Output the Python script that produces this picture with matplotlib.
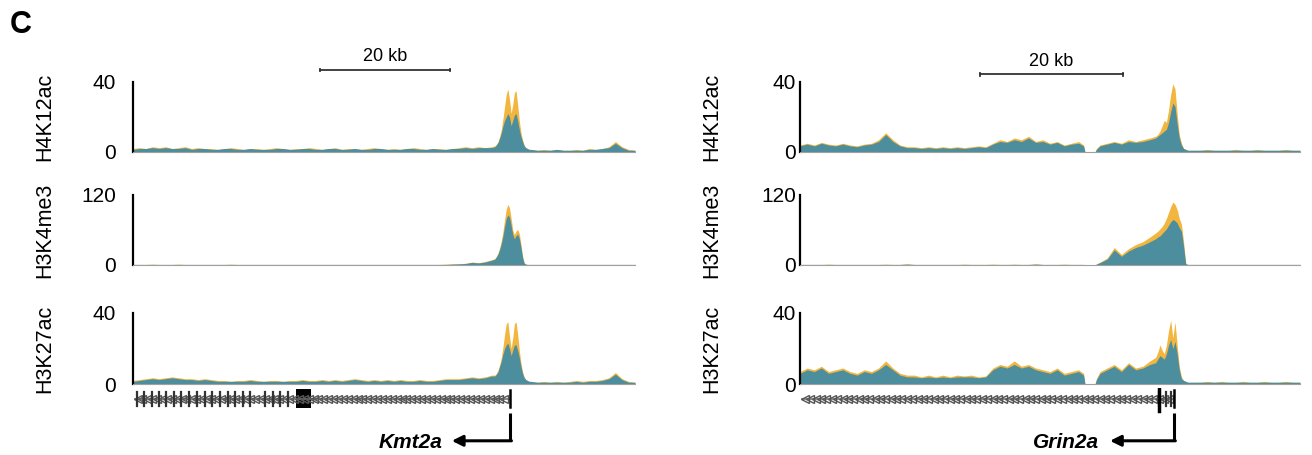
import numpy as np
import matplotlib
matplotlib.use("Agg")
import matplotlib.pyplot as plt

plt.rcParams['font.family'] = ['Liberation Sans', 'DejaVu Sans']

YELLOW = '#f2b63e'
TEAL = '#2f87b0'

# ---------------- data: Kmt2a locus (kb from left edge) ----------------
left_kb = [0, 1, 2, 3, 4, 5, 6, 7, 8, 9, 10, 11, 12, 13, 14, 15, 16, 17, 18, 19,
           20, 21, 22, 23, 24, 25, 26, 27, 28, 29, 30, 31, 32, 33, 34, 35, 36, 37, 38, 39,
           40, 41, 42, 43, 44, 45, 46, 47, 48, 49, 50, 51, 52, 53, 54, 55,
           55.5, 55.75, 56, 56.25, 56.5, 56.75, 57, 57.25, 57.5, 57.75, 58, 58.25,
           58.5, 58.75, 59, 59.25, 59.5, 59.75, 60, 60.25, 60.5, 60.75, 61,
           62, 63, 64, 65, 66, 67, 68, 69, 70, 71, 72, 73, 74, 75, 76, 77]

left_h4k12ac_a = [2, 2.5, 2, 3, 2.5, 3, 2, 2.5, 3, 2,
                  2.5, 2, 2, 1.5, 2, 2.5, 2, 1.5, 2, 2,
                  1.5, 2, 2.5, 2, 1.5, 2, 2, 2.5, 2, 1.5,
                  2, 2.5, 1.5, 2, 2, 1.5, 2, 2.5, 2, 1.5,
                  2, 1.5, 2, 2.5, 2, 1.5, 2, 2, 1.5, 2,
                  2.5, 3, 2.5, 3, 2.5, 3,
                  3.5, 4.5, 6, 9, 13, 19, 26, 33, 36, 30, 22, 27,
                  34, 35, 27, 18, 11, 7, 4, 2.5, 2, 1.5, 1.5,
                  1, 1.5, 1, 1.5, 1, 1, 1.5, 1, 2, 1.5, 2, 3, 6, 3, 1.5, 1]
left_h4k12ac_b = [1.5, 2, 2, 2.5, 2, 2.5, 2, 2, 2.5, 1.5,
                  2, 2, 1.5, 1.5, 2, 2, 1.5, 1.5, 2, 1.5,
                  1.5, 1.5, 2, 2, 1.5, 1.5, 2, 2, 1.5, 1.5,
                  2, 2, 1.5, 1.5, 2, 1.5, 1.5, 2, 2, 1.5,
                  1.5, 1.5, 2, 2, 1.5, 1.5, 2, 1.5, 1.5, 2,
                  2, 2.5, 2, 2.5, 2.5, 2.5,
                  3, 4, 5.5, 8, 11, 15, 18, 20, 22, 20, 15, 18,
                  21, 22, 18, 13, 9, 6, 3.5, 2.5, 2, 1.5, 1.5,
                  1, 1, 1, 1.5, 1, 1, 1, 1, 1.5, 1.5, 2, 2.5, 5, 2.5, 1, 1]

left_h3k4me3_a = [1, 1, 1, 1.5, 1, 1, 1, 1.5, 1, 1,
                  1, 1, 1, 1, 1, 1.5, 1, 1, 1, 1,
                  1, 1, 1, 1, 1, 1, 1, 1, 1, 1,
                  1, 1, 1, 1, 1, 1, 1, 1, 1, 1,
                  1, 1, 1, 1, 1, 1, 1, 1, 1.5, 2,
                  2, 3, 5, 4, 6, 9,
                  11, 15, 21, 30, 42, 58, 78, 96, 104, 98, 80, 60,
                  52, 58, 61, 54, 36, 16, 4, 1.5, 1, 1, 1,
                  1, 1, 1, 1, 1, 1, 1, 1, 1, 1, 1, 1, 1, 1, 1, 1]
left_h3k4me3_b = [1, 1, 1, 1, 1, 1, 1, 1, 1, 1,
                  1, 1, 1, 1, 1, 1, 1, 1, 1, 1,
                  1, 1, 1, 1, 1, 1, 1, 1, 1, 1,
                  1, 1, 1, 1, 1, 1, 1, 1, 1, 1,
                  1, 1, 1, 1, 1, 1, 1, 1, 1, 1.5,
                  2, 2.5, 4.5, 3.5, 5, 8,
                  10, 14, 19, 27, 37, 50, 66, 80, 86, 82, 68, 52,
                  45, 50, 53, 46, 31, 13, 3, 1.5, 1, 1, 1,
                  1, 1, 1, 1, 1, 1, 1, 1, 1, 1, 1, 1, 1, 1, 1, 1]

left_h3k27ac_a = [2, 2.5, 3, 3.5, 3, 3.5, 4, 3.5, 3, 3,
                  2.5, 3, 2.5, 2, 2, 1.5, 2, 2, 2.5, 2,
                  1.5, 2, 2, 1.5, 2, 2, 2.5, 2, 2, 2.5,
                  2, 2.5, 2, 2.5, 3, 2.5, 2, 2.5, 2, 2.5,
                  2, 2.5, 2, 2, 2.5, 2, 2, 2.5, 3, 3,
                  3, 3.5, 4, 3.5, 4, 5,
                  5, 6, 8, 11, 15, 21, 28, 34, 35, 27, 20, 26,
                  34, 35, 28, 19, 12, 7, 4, 2.5, 2, 1.5, 1.5,
                  1, 1.5, 1, 1.5, 1, 1.5, 2, 1.5, 2, 2, 2.5, 3.5, 6.5, 3, 1.5, 1]
left_h3k27ac_b = [1.5, 2, 2.5, 3, 2.5, 3, 3.5, 3, 2.5, 2.5,
                  2, 2.5, 2, 1.5, 1.5, 1.5, 1.5, 1.5, 2, 1.5,
                  1.5, 1.5, 1.5, 1.5, 1.5, 1.5, 2, 1.5, 1.5, 2,
                  1.5, 2, 1.5, 2, 2.5, 2, 1.5, 2, 1.5, 2,
                  1.5, 2, 1.5, 1.5, 2, 1.5, 1.5, 2, 2.5, 2.5,
                  2.5, 3, 3.5, 3, 3.5, 4.5,
                  4.5, 5.5, 7, 10, 13, 17, 20, 22, 23, 20, 16, 19,
                  22, 22, 19, 15, 10, 6, 3.5, 2.5, 2, 1.5, 1.5,
                  1, 1, 1, 1, 1, 1, 1.5, 1, 1.5, 1.5, 2, 3, 5.5, 2.5, 1, 1]

# ---------------- data: Grin2a locus ----------------
right_kb = [0, 1, 2, 3, 4, 5, 6, 7, 8, 9, 10, 11, 12, 13, 14, 15, 16, 17, 18, 19,
            20, 21, 22, 23, 24, 25, 26, 27, 28, 29, 30, 31, 32, 33, 34, 35, 36, 37, 38, 39,
            39.7, 39.9, 41.3, 41.5,
            42, 43, 44, 45, 46, 47, 48, 49,
            49.8, 50.1, 50.4, 50.7, 51.0, 51.3, 51.6, 51.9, 52.2, 52.5, 52.8, 53.1,
            53.4, 53.7, 54.0, 54.3,
            55, 56, 57, 58, 59, 60, 61, 62, 63, 64, 65, 66, 67, 68, 69, 70]

right_h4k12ac_a = [4, 5, 4, 5.5, 4.5, 4, 5, 4, 3.5, 4.5,
                   5, 7, 11, 7, 4, 3, 3, 2.5, 3, 2.5,
                   3, 2.5, 3, 2.5, 3, 3.5, 3, 5, 7, 6,
                   8, 7, 9, 6, 7, 5, 6, 4, 5, 6,
                   4, 0, 0, 2,
                   4, 5, 6, 5, 7, 6, 7, 8,
                   9, 10, 12, 15, 18, 17, 24, 33, 39, 36, 22, 10,
                   5, 2, 1.5, 1,
                   1, 1, 1.5, 1, 1, 1, 1.5, 1, 1, 1.5, 1, 1, 1, 1.5, 1, 1]
right_h4k12ac_b = [3.5, 4.5, 3.5, 5, 4, 3.5, 4.5, 3.5, 3, 4,
                   4.5, 6, 10, 6, 3.5, 2.5, 2.5, 2, 2.5, 2,
                   2.5, 2, 2.5, 2, 2.5, 3, 2.5, 4.5, 6, 5.5,
                   7, 6, 8, 5.5, 6, 4.5, 5.5, 3.5, 4.5, 5,
                   3.5, 0, 0, 1.5,
                   3.5, 4.5, 5.5, 4.5, 6, 5.5, 6, 7,
                   8, 9, 10, 11, 12, 13, 17, 23, 28, 26, 16, 8,
                   4, 2, 1.5, 1,
                   1, 1, 1, 1, 1, 1, 1, 1, 1, 1, 1, 1, 1, 1, 1, 1]

right_h3k4me3_a = [1, 1, 1, 1, 1.5, 1, 1, 1, 1, 1,
                   1, 1, 1.5, 1, 1, 2, 1, 1, 1, 1,
                   1, 1, 1, 1.5, 1, 1, 1, 1.5, 1, 1,
                   1.5, 1, 1, 2, 1, 1, 1, 1.5, 1, 1,
                   1, 0, 0, 2,
                   5, 12, 30, 18, 28, 35, 40, 48,
                   55, 58, 62, 66, 72, 80, 90, 100, 108, 104, 95, 80,
                   70, 40, 3, 1,
                   1, 1, 1, 1, 1, 1, 1, 1, 1, 1, 1, 1, 1, 1, 1, 1]
right_h3k4me3_b = [1, 1, 1, 1, 1, 1, 1, 1, 1, 1,
                   1, 1, 1, 1, 1, 1.5, 1, 1, 1, 1,
                   1, 1, 1, 1, 1, 1, 1, 1, 1, 1,
                   1, 1, 1, 1.5, 1, 1, 1, 1, 1, 1,
                   1, 0, 0, 1.5,
                   4, 10, 26, 15, 24, 30, 34, 40,
                   45, 48, 50, 54, 58, 62, 68, 74, 78, 76, 72, 64,
                   58, 32, 2, 1,
                   1, 1, 1, 1, 1, 1, 1, 1, 1, 1, 1, 1, 1, 1, 1, 1]

right_h3k27ac_a = [7, 9, 8, 10, 7, 8, 9, 7, 6, 8,
                   7, 9, 13, 9, 6, 5, 5, 4, 5, 4,
                   5, 4, 5, 4.5, 5, 4, 4.5, 9, 11, 10,
                   13, 10, 11, 9, 8, 7, 9, 6, 7, 8,
                   6, 0, 0, 3,
                   7, 9, 11, 8, 12, 9, 10, 13,
                   15, 18, 22, 19, 17, 22, 30, 36, 26, 35, 22, 10,
                   4, 2, 1.5, 1,
                   1, 1, 1.5, 1, 1.5, 1, 1, 1.5, 1, 1, 1.5, 1, 1, 1.5, 1, 1]
right_h3k27ac_b = [6, 8, 7, 9, 6, 7, 8, 6, 5, 7,
                   6, 8, 11, 8, 5, 4, 4, 3.5, 4, 3.5,
                   4, 3.5, 4, 4, 4, 3.5, 4, 8, 10, 9,
                   11, 9, 10, 8, 7, 6, 8, 5, 6, 7,
                   5, 0, 0, 2.5,
                   6, 8, 10, 7, 11, 8, 9, 11,
                   12, 14, 16, 15, 14, 17, 22, 25, 20, 24, 17, 8,
                   3, 2, 1.5, 1,
                   1, 1, 1, 1, 1, 1, 1, 1, 1, 1, 1, 1, 1, 1, 1, 1]

track_names = ['H4K12ac', 'H3K4me3', 'H3K27ac']
track_max = [40, 120, 40]

# gene models (kb)
left_gene = (0.3, 57.9)           # start, TSS
left_exons = [0.6, 1.7, 2.9, 4.0, 5.1, 6.3, 7.4, 8.6, 9.8, 11.0, 12.1, 13.3,
              14.5, 15.6, 16.8, 18.0, 20.2, 21.4, 22.6, 23.8]
left_big_exon = (25.0, 27.3)
right_gene = (0.3, 52.4)
right_exons = [50.3, 51.2, 51.9]

W, H = 1312, 455
fig = plt.figure(figsize=(W / 100, H / 100), dpi=100)


def add_ax(x0, y_top, x1, y_bot):
    return fig.add_axes([x0 / W, 1 - y_bot / H, (x1 - x0) / W, (y_bot - y_top) / H])


def draw_track(ax, kb, a, b, ymax, xmax, name, tickpad):
    ax.fill_between(kb, 0, a, color=YELLOW, lw=0)
    ax.fill_between(kb, 0, b, color=TEAL, lw=0, alpha=0.85)
    ax.set_xlim(0, xmax)
    ax.set_ylim(0, ymax)
    ax.set_xticks([])
    ax.set_yticks([0, ymax])
    ax.tick_params(axis='y', length=0, pad=tickpad, labelsize=15)
    for s in ['top', 'right']:
        ax.spines[s].set_visible(False)
    ax.spines['left'].set_linewidth(1.6)
    ax.spines['bottom'].set_color('#a0a0a0')
    ax.spines['bottom'].set_linewidth(0.8)
    ax.set_ylabel(name, fontsize=15.5)
    ax.yaxis.set_label_coords(-0.155, 0.5)
    ax.patch.set_alpha(0)


def draw_gene(ax, gene, exons, big, xmax, label, tall_idx=None):
    ax.set_xlim(0, xmax)
    ax.set_ylim(0, 1)
    ax.axis('off')
    g0, tss = gene
    yc = 0.82
    ax.plot([g0, tss], [yc, yc], color='#777777', lw=1.2)
    chev = np.arange(g0 + 0.4, tss - 0.3, 0.75)
    ax.plot(chev, np.full_like(chev, yc), ls='none', marker='<', ms=6,
            mfc='none', mec='#555555', mew=1.0)
    for e in exons:
        ax.plot([e, e], [yc - 0.12, yc + 0.12], color='#333333', lw=1.6)
    if big is not None:
        ax.fill_between([big[0], big[1]], yc - 0.16, yc + 0.16, color='black', lw=0)
    if tall_idx is not None:
        e = exons[tall_idx]
        ax.plot([e, e], [yc - 0.2, yc + 0.2], color='black', lw=2.5)
    ax.plot([tss, tss], [yc - 0.14, yc + 0.14], color='black', lw=1.8)
    # TSS arrow
    ax.plot([tss, tss], [0.58, 0.12], color='black', lw=2.2, solid_capstyle='butt')
    ax.annotate('', xy=(tss - 9.0, 0.12), xytext=(tss + 0.15, 0.12),
                arrowprops=dict(arrowstyle='-|>', lw=2.2, color='black',
                                mutation_scale=16, shrinkA=0, shrinkB=0))
    ax.text(tss - 10.5, 0.1, label, ha='right', va='center', fontsize=15,
            fontweight='bold', fontstyle='italic')


rows = [(82, 152), (195, 265), (313, 384)]
left_data = [(left_h4k12ac_a, left_h4k12ac_b), (left_h3k4me3_a, left_h3k4me3_b),
             (left_h3k27ac_a, left_h3k27ac_b)]
right_data = [(right_h4k12ac_a, right_h4k12ac_b), (right_h3k4me3_a, right_h3k4me3_b),
              (right_h3k27ac_a, right_h3k27ac_b)]

left_axes, right_axes = [], []
for i, (yt, yb) in enumerate(rows):
    axl = add_ax(133, yt, 635, yb)
    draw_track(axl, left_kb, left_data[i][0], left_data[i][1], track_max[i], 77,
               track_names[i], 12)
    left_axes.append(axl)
    axr = add_ax(800, yt, 1300, yb)
    draw_track(axr, right_kb, right_data[i][0], right_data[i][1], track_max[i], 70,
               track_names[i], 3)
    right_axes.append(axr)

# scale bars (20 kb)
for ax, x0, ybar, ytxt in [(left_axes[0], 28.7, 46.9, 49.5), (right_axes[0], 25.2, 44.5, 47.0)]:
    ax.plot([x0, x0 + 20], [ybar, ybar], color='#333333', lw=1.3, clip_on=False)
    for xe in (x0, x0 + 20):
        ax.plot([xe, xe], [ybar - 0.8, ybar + 0.8], color='#333333', lw=1.3, clip_on=False)
    ax.text(x0 + 10, ytxt, '20 kb', ha='center', va='bottom', fontsize=13, clip_on=False)

gl = add_ax(133, 388, 635, 448)
draw_gene(gl, left_gene, left_exons, left_big_exon, 77, 'Kmt2a')
gr = add_ax(800, 388, 1300, 448)
draw_gene(gr, right_gene, right_exons, None, 70, 'Grin2a', tall_idx=0)

fig.text(10 / W, 1 - 25 / H, 'C', fontsize=22, fontweight='bold', va='center', ha='left')

fig.savefig('out.png', dpi=100)
